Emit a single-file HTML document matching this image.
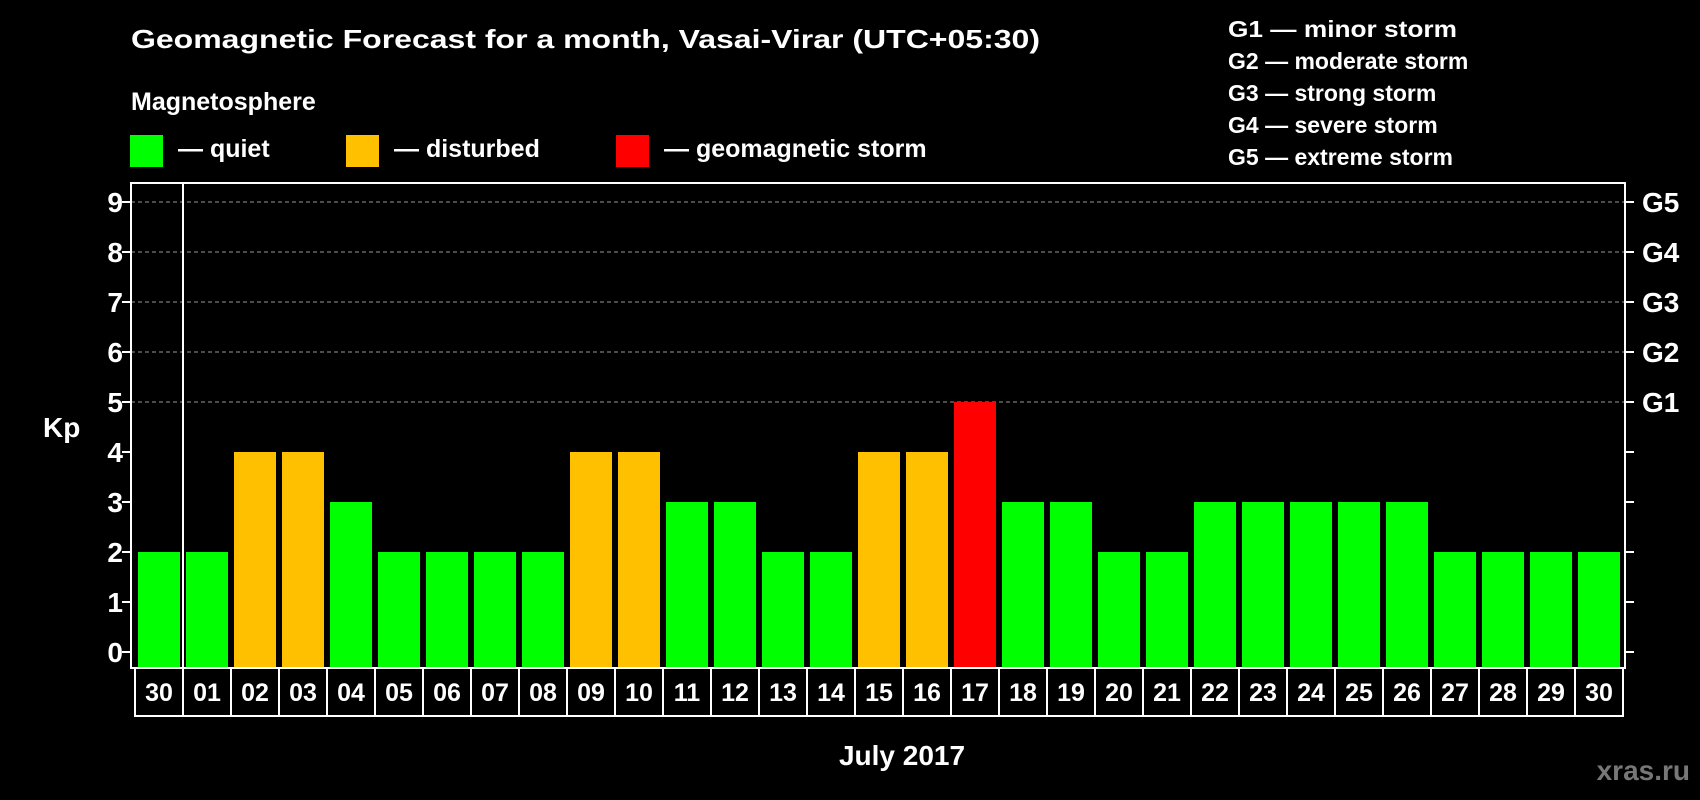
<!DOCTYPE html>
<html><head><meta charset="utf-8">
<style>
html,body{margin:0;padding:0;background:#000;}
svg{display:block;font-family:"Liberation Sans",sans-serif;font-weight:bold;}
</style></head>
<body>
<svg id="chart" width="1700" height="800" viewBox="0 0 1700 800" xmlns="http://www.w3.org/2000/svg">
<rect x="0" y="0" width="1700" height="800" fill="#000"/>
<text x="131" y="48" font-size="26" fill="#fff" textLength="909" lengthAdjust="spacingAndGlyphs">Geomagnetic Forecast for a month, Vasai-Virar (UTC+05:30)</text>
<text x="131" y="110" font-size="25" fill="#fff">Magnetosphere</text>
<g>
<rect x="130" y="135" width="33" height="32" fill="#00ff00"/>
<text x="178" y="157" font-size="25" fill="#fff">— quiet</text></g>
<g>
<rect x="346" y="135" width="33" height="32" fill="#ffc000"/>
<text x="394" y="157" font-size="25" fill="#fff">— disturbed</text></g>
<g>
<rect x="616" y="135" width="33" height="32" fill="#ff0000"/>
<text x="664" y="157" font-size="25" fill="#fff">— geomagnetic storm</text></g>
<g font-size="23" fill="#fff">
<text x="1228" y="37" textLength="229" lengthAdjust="spacingAndGlyphs">G1 — minor storm</text>
<text x="1228" y="69">G2 — moderate storm</text>
<text x="1228" y="101">G3 — strong storm</text>
<text x="1228" y="133">G4 — severe storm</text>
<text x="1228" y="165">G5 — extreme storm</text>
</g>
<text x="43" y="437" font-size="28" fill="#fff">Kp</text>
<text x="902" y="765" font-size="28" fill="#fff" text-anchor="middle">July 2017</text>
<text x="1690" y="780" font-size="28" fill="#777" text-anchor="end">xras.ru</text>
<g id="grid"></g>
<g id="bars"></g>
<g id="axes"></g>
<g id="xlabels"></g>
</svg>
<script>
const days = ["30","01","02","03","04","05","06","07","08","09","10","11","12","13","14","15","16","17","18","19","20","21","22","23","24","25","26","27","28","29","30"];
const kpValues = [2,2,4,4,3,2,2,2,2,4,4,3,3,2,2,4,4,5,3,3,2,2,3,3,3,3,3,2,2,2,2];
const yTicks = [0,1,2,3,4,5,6,7,8,9];
const gLabels = ["G1","G2","G3","G4","G5"];

const NS = "http://www.w3.org/2000/svg";
const plotL = 131, plotR = 1625, plotT = 183, plotB = 668;
const slotX0 = 135, slotW = (1623 - 135) / days.length;
function y(v){ return 652 - v * 50; }
function xSlot(i){ return slotX0 + i * slotW; }
function color(v){ return v >= 5 ? "#ff0000" : (v >= 4 ? "#ffc000" : "#00ff00"); }
function mk(tag, attrs, parent){
  const e = document.createElementNS(NS, tag);
  for (const k in attrs) e.setAttribute(k, attrs[k]);
  parent.appendChild(e); return e;
}
const grid = document.getElementById("grid");
const bars = document.getElementById("bars");
const axes = document.getElementById("axes");
const xl = document.getElementById("xlabels");

yTicks.forEach(function(t){
  if (t >= 5) {
    const g = mk("line", {x1: plotL, x2: plotR, y1: y(t), y2: y(t), stroke: "#999", "stroke-width": 1, "stroke-dasharray": "4,3"}, grid);
    
    
  }
  const lt = mk("line", {x1: plotL - 9, x2: plotL, y1: y(t), y2: y(t), stroke: "#fff", "stroke-width": 2}, axes);
  
  
  const rt = mk("line", {x1: plotR, x2: plotR + 9, y1: y(t), y2: y(t), stroke: "#fff", "stroke-width": 2}, axes);
  
  
  const lb = mk("text", {x: 123, y: y(t) + 10, "font-size": 28, fill: "#fff", "text-anchor": "end"}, axes);
  lb.textContent = t;
  
  
  if (t >= 5) {
    const gl = mk("text", {x: 1642, y: y(t) + 10, "font-size": 28, fill: "#fff"}, axes);
    gl.textContent = gLabels[t - 5];
    
    
  }
});

kpValues.forEach(function(v, i){
  const b = mk("rect", {x: xSlot(i) + 3, y: y(v), width: slotW - 6, height: plotB - y(v), fill: color(v)}, bars);
  
  
});

const frame = mk("rect", {x: plotL, y: plotT, width: plotR - plotL, height: plotB - plotT, fill: "none", stroke: "#fff", "stroke-width": 2}, axes);


const sep = mk("line", {x1: xSlot(1), x2: xSlot(1), y1: plotT, y2: plotB, stroke: "#fff", "stroke-width": 2}, axes);



const bottomLine = mk("line", {x1: slotX0, x2: xSlot(days.length), y1: 716, y2: 716, stroke: "#fff", "stroke-width": 2}, xl);


for (let i = 0; i <= days.length; i++) {
  const l = mk("line", {x1: xSlot(i), x2: xSlot(i), y1: plotB, y2: 717, stroke: "#fff", "stroke-width": 2}, xl);
  
  
}
days.forEach(function(d, i){
  const t = mk("text", {x: xSlot(i) + slotW / 2, y: 701, "font-size": 25, fill: "#fff", "text-anchor": "middle"}, xl);
  t.textContent = d;
  
  
});
</script>
</body></html>
